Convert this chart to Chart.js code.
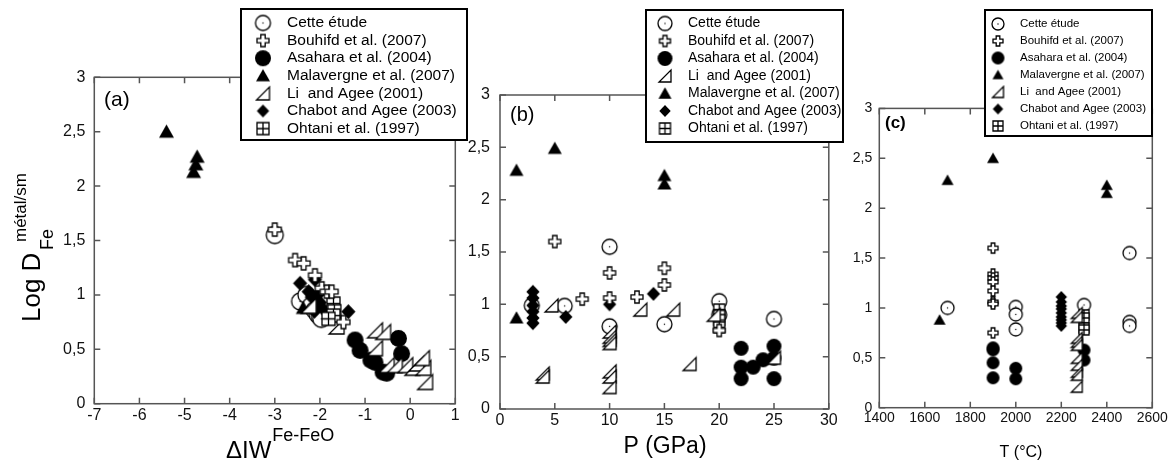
<!DOCTYPE html>
<html>
<head>
<meta charset="utf-8">
<script src="https://cdn.jsdelivr.net/npm/chart.js@4.4.1/dist/chart.umd.min.js"></script>
<style>
  body { margin: 0; background: #fff; }
  #wrap { position: relative; width: 1170px; height: 464px; }
  #wrap canvas { position: absolute; left: 0; top: 0; }
</style>
</head>
<body>
<div id="wrap">
  <canvas id="chartA" width="1170" height="464"></canvas>
  <canvas id="chartB" width="1170" height="464"></canvas>
  <canvas id="chartC" width="1170" height="464"></canvas>
</div>
<script>
// --- Data: panel (a), log D vs delta IW ---
const cetteA_x = [-3.0, -2.44, -2.3, -2.2, -2.12, -2.05, -2.0, -1.97];
const cetteA_y = [1.55, 0.94, 1.0, 0.9, 0.86, 0.82, 0.8, 0.78];
const bouhifdA_x = [-3.0, -2.55, -2.36, -2.11, -1.96, -1.85, -1.74, -1.48];
const bouhifdA_y = [1.6, 1.32, 1.29, 1.18, 1.06, 1.03, 1.03, 0.75];
const asaharaA_x = [-1.22, -1.11, -0.87, -0.78, -0.6, -0.52, -0.26, -0.19];
const asaharaA_y = [0.585, 0.49, 0.4, 0.38, 0.29, 0.28, 0.6, 0.46];
const malavA_x = [-5.4, -4.72, -4.75, -4.8, -2.37];
const malavA_y = [2.5, 2.27, 2.2, 2.13, 0.88];
const liA_x = [-2.25, -1.63, -0.78, -0.6, -0.78, -0.52, -0.34, -0.11, 0.05, 0.14, 0.29, 0.26, 0.33];
const liA_y = [0.9, 0.71, 0.675, 0.66, 0.51, 0.355, 0.355, 0.355, 0.33, 0.37, 0.33, 0.42, 0.2];
const chabotA_x = [-2.44, -2.11, -2.25, -2.18, -2.05, -2.0, -1.95, -2.12, -1.37];
const chabotA_y = [1.107, 1.14, 1.03, 0.98, 1.0, 0.93, 0.88, 0.85, 0.846];
const ohtaniA_x = [-1.7, -1.68, -1.7, -1.81];
const ohtaniA_y = [0.92, 0.85, 0.81, 0.78];

// --- Data: panel (b), log D vs P (GPa) ---
const cetteB_x = [2.9, 5.9, 10, 10, 15, 20, 20, 25];
const cetteB_y = [0.99, 0.985, 1.55, 0.79, 0.81, 1.03, 0.9, 0.86];
const bouhifdB_x = [5, 7.5, 10, 10, 12.5, 15, 15, 20];
const bouhifdB_y = [1.6, 1.05, 1.3, 1.06, 1.07, 1.345, 1.185, 0.75];
const asaharaB_x = [22, 22, 22, 23.1, 24, 25, 25, 25];
const asaharaB_y = [0.58, 0.4, 0.29, 0.4, 0.47, 0.6, 0.485, 0.29];
const malavB_x = [1.5, 5, 15, 15, 1.5];
const malavB_y = [2.28, 2.49, 2.23, 2.15, 0.87];
const liB_x = [3.9, 3.9, 4.7, 10, 10, 10, 10, 10, 10, 10, 12.8, 15.8, 17.3, 19.5, 25];
const liB_y = [0.34, 0.31, 0.99, 0.74, 0.69, 0.66, 0.63, 0.36, 0.31, 0.21, 0.95, 0.95, 0.43, 0.9, 0.49];
const chabotB_x = [3, 3, 3, 3, 3, 3, 6, 10, 14];
const chabotB_y = [1.12, 1.06, 0.99, 0.93, 0.87, 0.82, 0.88, 1.0, 1.1];
const ohtaniB_x = [20, 20, 20, 20];
const ohtaniB_y = [0.95, 0.89, 0.85, 0.78];

// --- Data: panel (c), log D vs T (°C) ---
const cetteC_x = [1700, 2000, 2000, 2000, 2300, 2500, 2500, 2500];
const cetteC_y = [1.0, 1.01, 0.935, 0.785, 1.03, 1.55, 0.86, 0.82];
const bouhifdC_x = [1900, 1900, 1900, 1900, 1900, 1900, 1900, 1900];
const bouhifdC_y = [1.6, 1.34, 1.3, 1.26, 1.17, 1.06, 1.04, 0.75];
const asaharaC_x = [1900, 1900, 1900, 1900, 2000, 2000, 2300, 2300];
const asaharaC_y = [0.6, 0.58, 0.45, 0.3, 0.395, 0.29, 0.578, 0.478];
const malavC_x = [1700, 1900, 2400, 2400, 1665];
const malavC_y = [2.28, 2.5, 2.23, 2.15, 0.88];
const liC_x = [2268, 2268, 2268, 2268, 2268, 2268, 2268, 2268, 2268, 2268];
const liC_y = [0.95, 0.91, 0.7, 0.66, 0.63, 0.5, 0.43, 0.36, 0.33, 0.21];
const chabotC_x = [2200, 2200, 2200, 2200, 2200, 2200, 2200, 2200, 2200];
const chabotC_y = [1.11, 1.06, 1.02, 0.99, 0.95, 0.91, 0.88, 0.85, 0.82];
const ohtaniC_x = [2300, 2300, 2300, 2300];
const ohtaniC_y = [0.93, 0.9, 0.8, 0.78];

// --- Legend labels and tick settings ---
const sourceLabels = {
    cette: 'Cette étude',
    bouhifd: 'Bouhifd et al. (2007)',
    asahara: 'Asahara et al. (2004)',
    malav: 'Malavergne et al. (2007)',
    li: 'Li  and Agee (2001)',
    chabot: 'Chabot and Agee (2003)',
    ohtani: 'Ohtani et al. (1997)'
};
const legendOrderAC = ['cette', 'bouhifd', 'asahara', 'malav', 'li', 'chabot', 'ohtani'];
const legendOrderB = ['cette', 'bouhifd', 'asahara', 'li', 'malav', 'chabot', 'ohtani'];
const yTicks = [0, 3, 0.5];          // min, max, step
const xTicksA = [-7, 1, 1];
const xTicksB = [0, 30, 5];
const xTicksC = [1400, 2600, 200];

// draw order: lower = on top
const drawOrder = { bouhifd: 1, li: 2, ohtani: 3, chabot: 4, malav: 5, asahara: 6, cette: 7 };

const FONT = "'Liberation Sans', Arial, Helvetica, sans-serif";
Chart.defaults.font.family = FONT;
Chart.defaults.color = '#111';

// --- Marker images ---
const markerCache = {};
function marker(kind, s) {
    const key = kind + s;
    if (markerCache[key]) return markerCache[key];
    const c = document.createElement('canvas');
    const dim = Math.ceil(s + 4);
    c.width = c.height = dim;
    const ctx = c.getContext('2d');
    const m = dim / 2, h = s / 2;
    ctx.lineWidth = 1.3;
    ctx.strokeStyle = '#000';
    ctx.fillStyle = '#fff';
    ctx.beginPath();
    if (kind === 'cette') {
        ctx.arc(m, m, h, 0, Math.PI * 2);
        ctx.fill(); ctx.stroke();
        ctx.fillStyle = '#000';
        ctx.fillRect(m - 0.6, m - 0.6, 1.2, 1.2);
    } else if (kind === 'bouhifd') {
        const a = s / 5.5;
        const pts = [[-a, -h], [a, -h], [a, -a], [h, -a], [h, a], [a, a], [a, h], [-a, h], [-a, a], [-h, a], [-h, -a], [-a, -a]];
        pts.forEach((p, i) => i ? ctx.lineTo(m + p[0], m + p[1]) : ctx.moveTo(m + p[0], m + p[1]));
        ctx.closePath(); ctx.fill(); ctx.stroke();
    } else if (kind === 'asahara') {
        ctx.arc(m, m, h, 0, Math.PI * 2);
        ctx.fillStyle = '#000'; ctx.fill();
    } else if (kind === 'malav') {
        const H = s * 0.88;
        ctx.moveTo(m, m - H * 0.55);
        ctx.lineTo(m + h, m + H * 0.45);
        ctx.lineTo(m - h, m + H * 0.45);
        ctx.closePath();
        ctx.fillStyle = '#000'; ctx.fill();
    } else if (kind === 'li') {
        ctx.moveTo(m - h, m + h);
        ctx.lineTo(m + h, m + h);
        ctx.lineTo(m + h, m - h);
        ctx.closePath(); ctx.fill(); ctx.stroke();
    } else if (kind === 'chabot') {
        ctx.moveTo(m, m - h);
        ctx.lineTo(m + h * 0.95, m);
        ctx.lineTo(m, m + h);
        ctx.lineTo(m - h * 0.95, m);
        ctx.closePath();
        ctx.fillStyle = '#000'; ctx.fill();
    } else if (kind === 'ohtani') {
        ctx.rect(m - h, m - h, s, s);
        ctx.fill();
        ctx.moveTo(m, m - h); ctx.lineTo(m, m + h);
        ctx.moveTo(m - h, m); ctx.lineTo(m + h, m);
        ctx.stroke();
    }
    markerCache[key] = c;
    return c;
}

// --- Frame, legend, titles ---
function decorPlugin(deco) {
    return {
        id: 'decor',
        beforeDatasetsDraw(chart) {
            const { ctx, chartArea: a, scales: { x, y } } = chart;
            ctx.save();
            ctx.strokeStyle = '#555';
            ctx.lineWidth = 1.5;
            ctx.strokeRect(a.left, a.top, a.right - a.left, a.bottom - a.top);
            ctx.beginPath();
            x.ticks.forEach(t => {
                const px = x.getPixelForValue(t.value);
                ctx.moveTo(px, a.bottom); ctx.lineTo(px, a.bottom - 6);
                ctx.moveTo(px, a.top); ctx.lineTo(px, a.top + 6);
            });
            y.ticks.forEach(t => {
                const py = y.getPixelForValue(t.value);
                ctx.moveTo(a.left, py); ctx.lineTo(a.left + 6, py);
                ctx.moveTo(a.right, py); ctx.lineTo(a.right - 6, py);
            });
            ctx.stroke();
            ctx.restore();
        },
        afterDraw(chart) {
            const ctx = chart.ctx;
            ctx.save();
            // panel letter
            ctx.fillStyle = '#000';
            ctx.font = deco.tag.font;
            ctx.textBaseline = 'middle';
            ctx.fillText(deco.tag.text, deco.tag.x, deco.tag.y);
            // legend box
            const L = deco.legend;
            ctx.fillStyle = '#fff';
            ctx.fillRect(L.x, L.y, L.w, L.h);
            ctx.lineWidth = 2;
            ctx.strokeStyle = '#000';
            ctx.strokeRect(L.x, L.y, L.w, L.h);
            ctx.font = L.font;
            ctx.fillStyle = '#000';
            L.order.forEach((kind, i) => {
                const cy = L.y0 + i * L.dy;
                const img = marker(kind, L.sizes[kind]);
                ctx.drawImage(img, L.mx - img.width / 2, cy - img.height / 2);
                ctx.fillText(sourceLabels[kind], L.tx, cy);
            });
            // axis titles
            deco.titles(ctx);
            ctx.restore();
        }
    };
}

function buildDatasets(series, sizes) {
    return series.map(s => ({
        label: sourceLabels[s.kind],
        data: s.xs.map((v, i) => ({ x: v, y: s.ys[i] })),
        pointStyle: marker(s.kind, sizes[s.kind]),
        pointRadius: sizes[s.kind] / 2,
        pointHoverRadius: sizes[s.kind] / 2,
        order: drawOrder[s.kind],
        clip: false,
        showLine: false
    }));
}

function commaNum(v) {
    return String(v).replace('.', ',');
}

function makePanel(id, cfg) {
    new Chart(document.getElementById(id), {
        type: 'scatter',
        data: { datasets: buildDatasets(cfg.series, cfg.sizes) },
        options: {
            responsive: false,
            animation: false,
            events: [],
            layout: { padding: cfg.pad },
            plugins: { legend: { display: false }, tooltip: { enabled: false } },
            scales: {
                x: {
                    type: 'linear',
                    min: cfg.xt[0], max: cfg.xt[1],
                    ticks: { stepSize: cfg.xt[2], padding: cfg.xPad, font: { size: cfg.tickFont }, color: '#111', maxRotation: 0, autoSkip: false, callback: v => String(v) },
                    grid: { display: false, drawTicks: false },
                    border: { display: false },
                    afterFit: s => { s.height = 50; s.paddingLeft = 0; s.paddingRight = 0; }
                },
                y: {
                    type: 'linear',
                    min: yTicks[0], max: yTicks[1],
                    ticks: { stepSize: yTicks[2], padding: cfg.yPad, font: { size: cfg.tickFont }, color: '#111', callback: v => commaNum(v) },
                    grid: { display: false, drawTicks: false },
                    border: { display: false },
                    afterFit: s => { s.width = 60; s.paddingTop = 0; s.paddingBottom = 0; }
                }
            }
        },
        plugins: [decorPlugin(cfg.deco)]
    });
}

// --- Panel (a) ---
makePanel('chartA', {
    series: [
        { kind: 'cette', xs: cetteA_x, ys: cetteA_y },
        { kind: 'bouhifd', xs: bouhifdA_x, ys: bouhifdA_y },
        { kind: 'asahara', xs: asaharaA_x, ys: asaharaA_y },
        { kind: 'malav', xs: malavA_x, ys: malavA_y },
        { kind: 'li', xs: liA_x, ys: liA_y },
        { kind: 'chabot', xs: chabotA_x, ys: chabotA_y },
        { kind: 'ohtani', xs: ohtaniA_x, ys: ohtaniA_y }
    ],
    sizes: { cette: 17, bouhifd: 13, asahara: 17, malav: 15, li: 15, chabot: 15, ohtani: 13 },
    pad: { left: 34.3, top: 77.3, right: 714.7, bottom: 10.3 },
    xt: xTicksA, xPad: 2, yPad: 9, tickFont: 16,
    deco: {
        tag: { text: '(a)', x: 104, y: 100, font: '21px ' + FONT },
        legend: {
            x: 241, y: 9, w: 226, h: 131, mx: 263, tx: 287, y0: 23, dy: 17.6,
            font: '15.5px ' + FONT, order: legendOrderAC,
            sizes: { cette: 15, bouhifd: 12, asahara: 16, malav: 14, li: 13, chabot: 13, ohtani: 12 }
        },
        titles(ctx) {
            ctx.fillStyle = '#000';
            ctx.textBaseline = 'alphabetic';
            ctx.font = '24px ' + FONT;
            ctx.fillText('ΔIW', 226, 458);
            const w = ctx.measureText('ΔIW').width;
            ctx.font = '18px ' + FONT;
            ctx.fillText('Fe-FeO', 226 + w + 1, 441);
            // rotated y title
            ctx.save();
            ctx.translate(40, 322);
            ctx.rotate(-Math.PI / 2);
            ctx.font = '26px ' + FONT;
            ctx.fillText('Log D', 0, 0);
            ctx.font = '18px ' + FONT;
            ctx.fillText('Fe', 72, 13);
            ctx.font = '17px ' + FONT;
            ctx.fillText('métal/sm', 80, -14);
            ctx.restore();
        }
    }
});

// --- Panel (b) ---
makePanel('chartB', {
    series: [
        { kind: 'cette', xs: cetteB_x, ys: cetteB_y },
        { kind: 'bouhifd', xs: bouhifdB_x, ys: bouhifdB_y },
        { kind: 'asahara', xs: asaharaB_x, ys: asaharaB_y },
        { kind: 'li', xs: liB_x, ys: liB_y },
        { kind: 'malav', xs: malavB_x, ys: malavB_y },
        { kind: 'chabot', xs: chabotB_x, ys: chabotB_y },
        { kind: 'ohtani', xs: ohtaniB_x, ys: ohtaniB_y }
    ],
    sizes: { cette: 15, bouhifd: 12, asahara: 15, malav: 14, li: 13, chabot: 14, ohtani: 11 },
    pad: { left: 440, top: 95, right: 341.2, bottom: 5 },
    xt: xTicksB, xPad: 2, yPad: 10, tickFont: 16,
    deco: {
        tag: { text: '(b)', x: 510, y: 115, font: '20px ' + FONT },
        legend: {
            x: 646, y: 10, w: 197, h: 132, mx: 665, tx: 688, y0: 23.5, dy: 17.5,
            font: '14px ' + FONT, order: legendOrderB,
            sizes: { cette: 14, bouhifd: 11, asahara: 15, malav: 13, li: 12, chabot: 12, ohtani: 11 }
        },
        titles(ctx) {
            ctx.fillStyle = '#000';
            ctx.textBaseline = 'alphabetic';
            ctx.textAlign = 'center';
            ctx.font = '23px ' + FONT;
            ctx.fillText('P (GPa)', 665, 453);
            ctx.textAlign = 'left';
        }
    }
});

// --- Panel (c) ---
makePanel('chartC', {
    series: [
        { kind: 'cette', xs: cetteC_x, ys: cetteC_y },
        { kind: 'bouhifd', xs: bouhifdC_x, ys: bouhifdC_y },
        { kind: 'asahara', xs: asaharaC_x, ys: asaharaC_y },
        { kind: 'malav', xs: malavC_x, ys: malavC_y },
        { kind: 'li', xs: liC_x, ys: liC_y },
        { kind: 'chabot', xs: chabotC_x, ys: chabotC_y },
        { kind: 'ohtani', xs: ohtaniC_x, ys: ohtaniC_y }
    ],
    sizes: { cette: 13, bouhifd: 10, asahara: 13, malav: 12, li: 11, chabot: 12, ohtani: 10 },
    pad: { left: 819.3, top: 108.4, right: 17.7, bottom: 6.3 },
    xt: xTicksC, xPad: 2, yPad: 7, tickFont: 14,
    deco: {
        tag: { text: '(c)', x: 885, y: 123, font: 'bold 17px ' + FONT },
        legend: {
            x: 985, y: 10, w: 167, h: 126, mx: 998, tx: 1020, y0: 24, dy: 17,
            font: '11.5px ' + FONT, order: legendOrderAC,
            sizes: { cette: 12, bouhifd: 10, asahara: 13, malav: 11, li: 11, chabot: 11, ohtani: 10 }
        },
        titles(ctx) {
            ctx.fillStyle = '#000';
            ctx.textBaseline = 'alphabetic';
            ctx.textAlign = 'center';
            ctx.font = '16px ' + FONT;
            ctx.fillText('T (°C)', 1021, 457);
            ctx.textAlign = 'left';
        }
    }
});
</script>
</body>
</html>
